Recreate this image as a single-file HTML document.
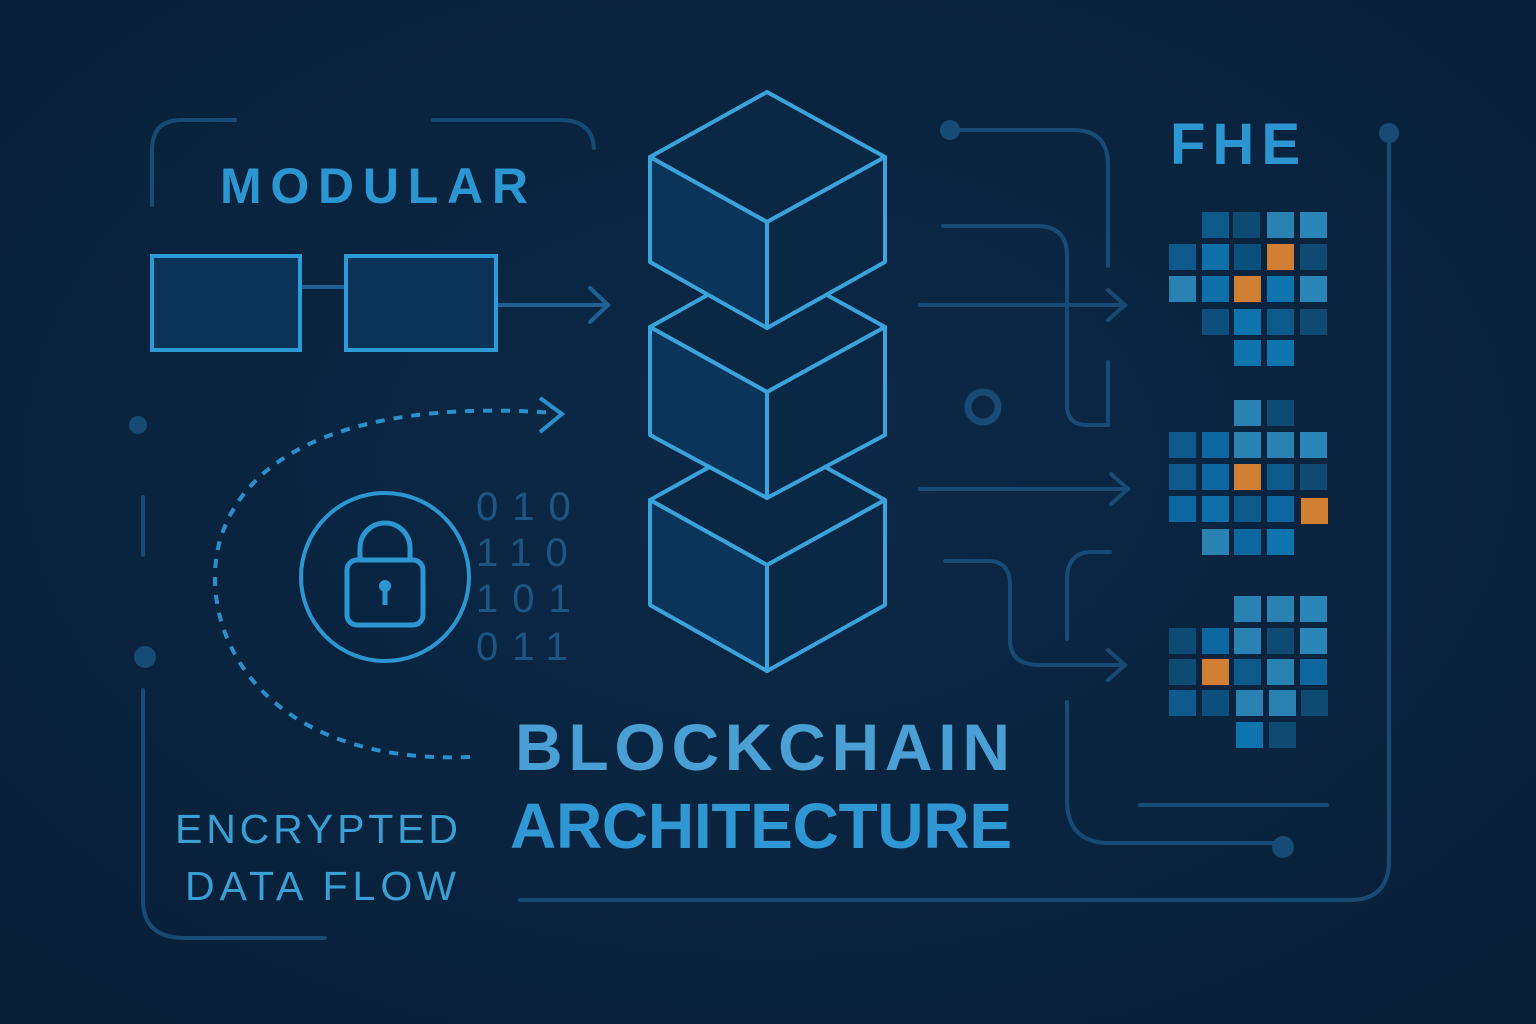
<!DOCTYPE html>
<html><head><meta charset="utf-8"><style>
html,body{margin:0;padding:0;background:#0a2440;}
svg{display:block}
text{font-family:"Liberation Sans","DejaVu Sans",sans-serif;}
</style></head><body>
<svg width="1536" height="1024" viewBox="0 0 1536 1024" xmlns="http://www.w3.org/2000/svg">
<defs>
<radialGradient id="bg" cx="50%" cy="45%" r="70%">
<stop offset="0" stop-color="#0c2947"/><stop offset="1" stop-color="#081f38"/>
</radialGradient>
</defs>
<rect width="1536" height="1024" fill="url(#bg)"/>

<g fill="none" stroke="#174a74" stroke-width="4" stroke-linecap="round">
<path d="M152,205 V150 Q152,120 182,120 H235"/>
<path d="M433,120 H560 Q592,120 594,148"/>
<path d="M143,497 V555"/>
<path d="M143,690 V900 Q143,938 185,938 H325"/>
<path d="M950,130 H1073 Q1108,130 1108,165 V266"/>
<path d="M943,226 H1037 Q1067,226 1067,256 V405 Q1067,425 1087,425 H1108 V362"/>
<path d="M920,305 H1125 M1108,290 L1125,305 L1108,320"/>
<path d="M920,489 H1128 M1111,474 L1128,489 L1111,504"/>
<path d="M945,561 H988 Q1010,561 1010,585 V640 Q1010,665 1040,665 H1125 M1108,650 L1125,665 L1108,680"/>
<path d="M1067,639 V580 Q1067,552 1092,552 H1110"/>
<path d="M1067,702 V800 Q1067,843 1110,843 H1283"/>
<path d="M1140,805 H1327"/>
<path d="M1389,133 V860 Q1389,900 1350,900 H520"/>
<path d="M496,305 H608 M590,288 L608,305 L590,322" stroke="#1f5f94"/>
<path d="M300,287 H346" stroke="#1f5f94"/>
</g>
<g fill="#174a74">
<circle cx="950" cy="130" r="10"/>
<circle cx="1283" cy="847" r="11"/>
<circle cx="1389" cy="133" r="10"/>
<circle cx="138" cy="425" r="9"/>
<circle cx="145" cy="657" r="11"/>
</g>
<circle cx="983" cy="407" r="15" fill="none" stroke="#174a74" stroke-width="7"/>

<rect x="152" y="256" width="148" height="94" fill="#0b3458" stroke="#2c9bd8" stroke-width="4"/>
<rect x="346" y="256" width="150" height="94" fill="#0b3458" stroke="#2c9bd8" stroke-width="4"/>

<text x="220" y="203" textLength="308" lengthAdjust="spacing" font-size="50" font-weight="bold" fill="#2b96d2">MODULAR</text>

<path d="M470,757 C260,765 195,630 220,540 C250,440 380,400 555,413" fill="none" stroke="#2b8fcc" stroke-width="4" stroke-dasharray="9,9"/>
<path d="M540,398 L562,414 L540,432" fill="none" stroke="#2b8fcc" stroke-width="4"/>

<circle cx="385" cy="577" r="84" fill="none" stroke="#2b96d2" stroke-width="4"/>
<path d="M360,562 V548 A25,25 0 0 1 410,548 V562" fill="none" stroke="#2b96d2" stroke-width="5"/>
<rect x="347" y="560" width="76" height="65" rx="10" fill="none" stroke="#2b96d2" stroke-width="5"/>
<circle cx="385" cy="586" r="6" fill="#2b96d2"/>
<path d="M385,588 V605" stroke="#2b96d2" stroke-width="5"/>

<g font-size="40" fill="#1d5685" font-family="Liberation Sans" letter-spacing="14">
<text x="476" y="520">010</text>
<text x="476" y="566">110</text>
<text x="476" y="612">101</text>
<text x="476" y="660">011</text>
</g>

<g stroke="#3aa3dc" stroke-width="4" stroke-linejoin="round">
<g>
<polygon points="767,435 885,500 767,565 650,500" fill="#0a2744"/>
<polygon points="650,500 767,565 767,671 650,605" fill="#0a3459"/>
<polygon points="767,565 885,500 885,605 767,671" fill="#0a2846"/>
</g>
<g>
<polygon points="767,262 885,327 767,392 650,327" fill="#0a2744"/>
<polygon points="650,327 767,392 767,498 650,435" fill="#0a3459"/>
<polygon points="767,392 885,327 885,435 767,498" fill="#0a2846"/>
</g>
<g>
<polygon points="767,92 885,157 767,222 650,157" fill="#0a2744"/>
<polygon points="650,157 767,222 767,328 650,262" fill="#0a3459"/>
<polygon points="767,222 885,157 885,262 767,328" fill="#0a2846"/>
</g>
</g>

<text x="515" y="770" textLength="495" lengthAdjust="spacing" font-size="66" font-weight="bold" fill="#4a9fd4">BLOCKCHAIN</text>
<text x="510" y="848" textLength="502" lengthAdjust="spacing" font-size="64" font-weight="bold" fill="#2f98d4">ARCHITECTURE</text>
<text x="175" y="843" textLength="283" lengthAdjust="spacing" font-size="41" fill="#3a9fd4">ENCRYPTED</text>
<text x="185" y="900" textLength="271" lengthAdjust="spacing" font-size="41" fill="#3a9fd4">DATA FLOW</text>
<text x="1170" y="164" textLength="130" lengthAdjust="spacing" font-size="58" font-weight="bold" fill="#2b96d2">FHE</text>

<g>
<rect x="1202" y="212" width="27" height="26" fill="#0d5a8a"/>
<rect x="1233" y="212" width="27" height="26" fill="#0f4a72"/>
<rect x="1267" y="212" width="27" height="26" fill="#2a82b2"/>
<rect x="1300" y="212" width="27" height="26" fill="#2a86b6"/>
<rect x="1169" y="244" width="27" height="26" fill="#0d5a8a"/>
<rect x="1202" y="244" width="27" height="26" fill="#0e70a8"/>
<rect x="1234" y="244" width="27" height="26" fill="#0b4f7d"/>
<rect x="1267" y="244" width="27" height="26" fill="#d27f36"/>
<rect x="1300" y="244" width="27" height="26" fill="#0f4a72"/>
<rect x="1169" y="276" width="27" height="26" fill="#2a82b2"/>
<rect x="1202" y="276" width="27" height="26" fill="#0e70a8"/>
<rect x="1234" y="276" width="27" height="26" fill="#d27f36"/>
<rect x="1267" y="276" width="27" height="26" fill="#0e74ad"/>
<rect x="1300" y="276" width="27" height="26" fill="#2a86b6"/>
<rect x="1202" y="309" width="27" height="26" fill="#0d4f7c"/>
<rect x="1234" y="309" width="27" height="26" fill="#0e74ad"/>
<rect x="1267" y="309" width="27" height="26" fill="#0d5a8a"/>
<rect x="1300" y="309" width="27" height="26" fill="#0f4a72"/>
<rect x="1234" y="340" width="27" height="26" fill="#0e74ad"/>
<rect x="1267" y="340" width="27" height="26" fill="#0e74ad"/>
<rect x="1234" y="400" width="27" height="26" fill="#2a82b2"/>
<rect x="1267" y="400" width="27" height="26" fill="#0f4a72"/>
<rect x="1169" y="432" width="27" height="26" fill="#0d5a8a"/>
<rect x="1202" y="432" width="27" height="26" fill="#0e66a0"/>
<rect x="1234" y="432" width="27" height="26" fill="#2a82b2"/>
<rect x="1267" y="432" width="27" height="26" fill="#2a82b2"/>
<rect x="1300" y="432" width="27" height="26" fill="#2a86b6"/>
<rect x="1169" y="464" width="27" height="26" fill="#0d5a8a"/>
<rect x="1202" y="464" width="27" height="26" fill="#0e66a0"/>
<rect x="1234" y="464" width="27" height="26" fill="#d27f36"/>
<rect x="1267" y="464" width="27" height="26" fill="#0d5a8a"/>
<rect x="1300" y="464" width="27" height="26" fill="#0f4a72"/>
<rect x="1169" y="496" width="27" height="26" fill="#0e66a0"/>
<rect x="1202" y="496" width="27" height="26" fill="#0e70a8"/>
<rect x="1234" y="496" width="27" height="26" fill="#0d5a8a"/>
<rect x="1267" y="496" width="27" height="26" fill="#0e66a0"/>
<rect x="1301" y="498" width="27" height="26" fill="#d27f36"/>
<rect x="1202" y="529" width="27" height="26" fill="#2a82b2"/>
<rect x="1234" y="529" width="27" height="26" fill="#0e66a0"/>
<rect x="1267" y="529" width="27" height="26" fill="#0e74ad"/>
<rect x="1234" y="596" width="27" height="26" fill="#2a82b2"/>
<rect x="1267" y="596" width="27" height="26" fill="#2a82b2"/>
<rect x="1300" y="596" width="27" height="26" fill="#2a86b6"/>
<rect x="1169" y="628" width="27" height="26" fill="#0f4a72"/>
<rect x="1202" y="628" width="27" height="26" fill="#0e66a0"/>
<rect x="1234" y="628" width="27" height="26" fill="#2a82b2"/>
<rect x="1267" y="628" width="27" height="26" fill="#0f4a72"/>
<rect x="1300" y="628" width="27" height="26" fill="#2a86b6"/>
<rect x="1169" y="659" width="27" height="26" fill="#0f4a72"/>
<rect x="1202" y="659" width="27" height="26" fill="#d27f36"/>
<rect x="1234" y="659" width="27" height="26" fill="#0d5a8a"/>
<rect x="1267" y="659" width="27" height="26" fill="#2a82b2"/>
<rect x="1300" y="659" width="27" height="26" fill="#0e66a0"/>
<rect x="1169" y="690" width="27" height="26" fill="#0e5a8a"/>
<rect x="1202" y="690" width="27" height="26" fill="#0d4f7c"/>
<rect x="1236" y="690" width="27" height="26" fill="#2a82b2"/>
<rect x="1269" y="690" width="27" height="26" fill="#2a82b2"/>
<rect x="1301" y="690" width="27" height="26" fill="#0f4a72"/>
<rect x="1236" y="722" width="27" height="26" fill="#0e74ad"/>
<rect x="1269" y="722" width="27" height="26" fill="#0f4a72"/>
</g>
</svg>
</body></html>
